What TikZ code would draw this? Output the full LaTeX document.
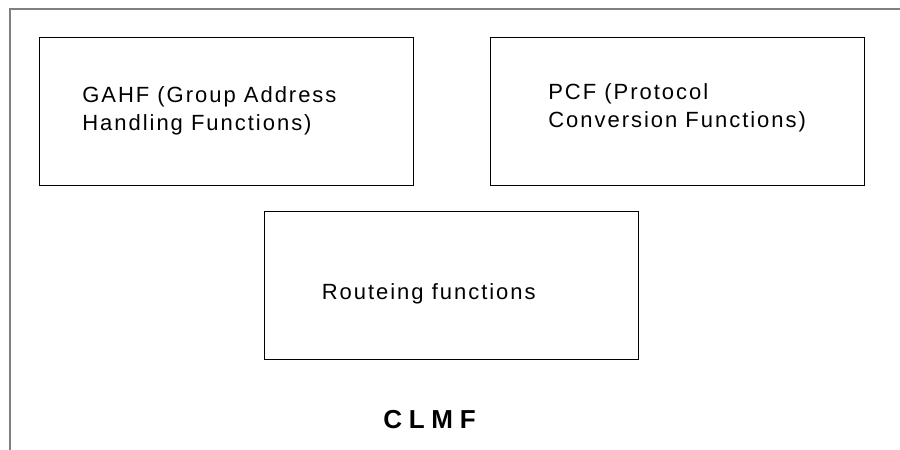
\documentclass[tikz,border=0pt]{standalone}
\usepackage{fontspec}
\setmainfont{Liberation Sans}
\newfontfamily\funcfont[LetterSpace=9]{Liberation Sans}
\newfontfamily\clmffont[LetterSpace=26]{Liberation Sans}
\usetikzlibrary{positioning}

\begin{document}
\begin{tikzpicture}[x=1pt, y=1pt, semithick,
                func/.style={draw, line width=1pt, minimum width=374pt, minimum height=148pt},
                txt/.style={inner sep=0pt, align=left, anchor=base west,
                    font=\funcfont\fontsize{22}{28}\selectfont},
                frame/.style={draw=gray, line width=1.2pt}]

                \useasboundingbox (0,0) rectangle (900,450);
                \draw[frame] (10,0) |- (900,441);

                \node[func] (gahf) at (226.5,338) {};
                \node[func] (pcf) at (677.5,338) {};
                \node[func] (rout) at (451,164) {};

                \node[txt] (gahftxt) at ([xshift=43pt,yshift=-19pt]gahf.west) {GAHF (Group Address\\Handling Functions)};
                \node[txt] (pcftxt) at ([xshift=58pt,yshift=-16pt]pcf.west) {PCF (Protocol\\Conversion Functions)};
                \node[txt] (routtxt) at ([xshift=58pt,yshift=-14pt]rout.west) {Routeing functions};

                \node[inner sep=0pt, anchor=base west, font=\clmffont\bfseries\fontsize{26}{30}\selectfont] (clmf) at (383,21) {CLMF};

            \end{tikzpicture}
\end{document}
